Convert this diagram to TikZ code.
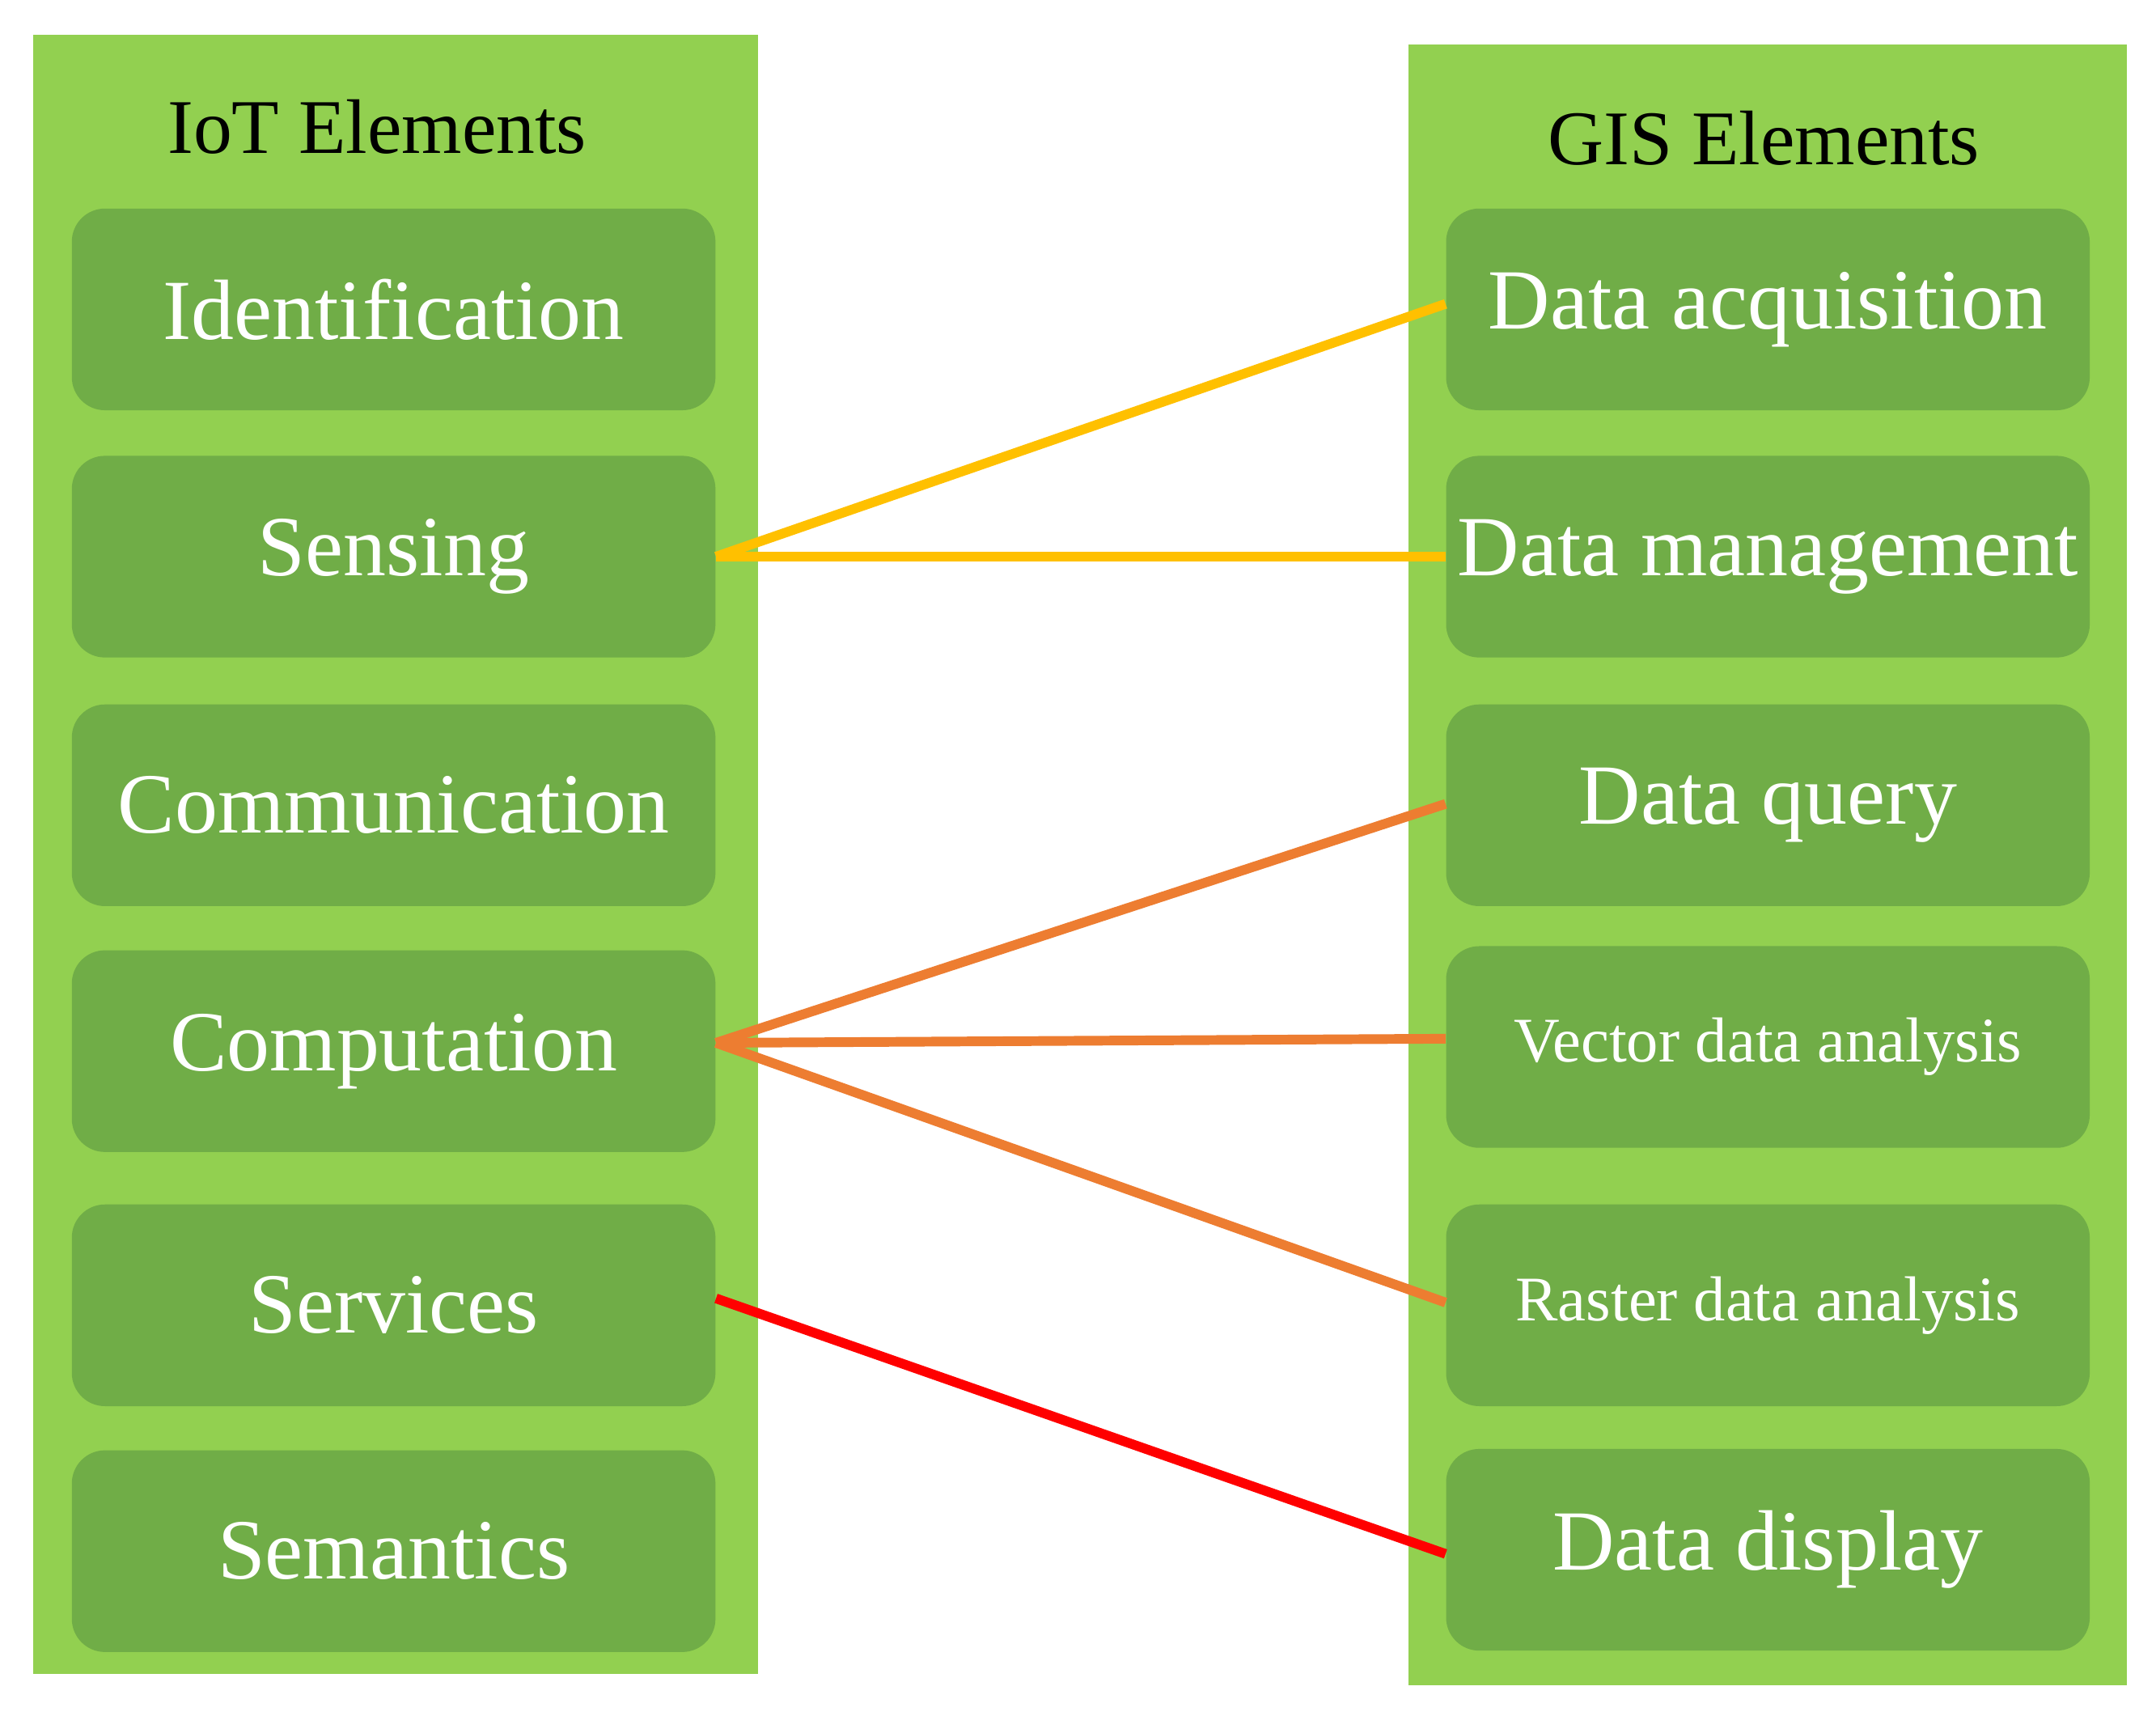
\documentclass[tikz,border=0pt]{standalone}
\usepackage{fontspec}
\setmainfont{Liberation Serif}
\begin{document}
\begin{tikzpicture}[x=0.5pt,y=-0.5pt,
  panel/.style={fill=panelg,draw=none},
  box/.style={fill=boxg,draw=none,rounded corners=12pt,minimum width=233pt,minimum height=73pt,inner sep=0pt,text=white,font=\fontsize{31}{34}\selectfont},
  small/.style={font=\fontsize{23}{26}\selectfont},
  ttl/.style={font=\fontsize{28}{32}\selectfont,text=black},
  ln/.style={line width=3.5pt}]
\definecolor{panelg}{HTML}{92D050}
\definecolor{boxg}{HTML}{70AD47}
\definecolor{yel}{HTML}{FFC000}
\definecolor{ora}{HTML}{ED7D31}
\useasboundingbox (0,0) rectangle (1561,1242);
\fill[white] (0,0) rectangle (1561,1242);
\node[panel,minimum width=262.5pt,minimum height=593.5pt,inner sep=0pt] (lp) at (286.5,618.5) {};
\node[panel,minimum width=260pt,minimum height=594pt,inner sep=0pt] (rp) at (1280,626) {};
\node[ttl] (lt) at (273,92) {IoT Elements};
\node[ttl] (rt) at (1277,100) {GIS Elements};
\node[box] (id) at (285,224) {Identification};
\node[box] (se) at (285,403) {Sensing};
\node[box] (co) at (285,583) {Communication};
\node[box] (cp) at (285,761) {Computation};
\node[box] (sv) at (285,945) {Services};
\node[box] (sm) at (285,1123) {Semantics};
\node[box] (da) at (1280,224) {Data acquisition};
\node[box] (dm) at (1280,403) {Data management};
\node[box] (dq) at (1280,583) {Data query};
\node[box,small] (va) at (1280,758) {Vector data analysis};
\node[box,small] (ra) at (1280,945) {Raster data analysis};
\node[box] (dd) at (1280,1122) {Data display};
\draw[ln,yel] (se.east) -- (da.west|-0,220);
\draw[ln,yel] (se.east) -- (dm.west|-se.east);
\draw[ln,ora] (cp.east|-0,755) -- (dq.west|-0,582);
\draw[ln,ora] (cp.east|-0,755) -- (va.west|-0,752);
\draw[ln,ora] (cp.east|-0,755) -- (ra.west|-0,943);
\draw[ln,red] (sv.east|-0,940) -- (dd.west|-0,1125);
\end{tikzpicture}
\end{document}
